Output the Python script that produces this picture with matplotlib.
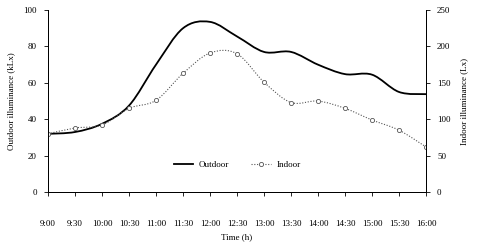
import numpy as np
import matplotlib.pyplot as plt
from matplotlib.path import Path
from matplotlib.patches import PathPatch

plt.rcParams['font.family'] = ['Liberation Serif', 'DejaVu Serif']
plt.rcParams['font.size'] = 6.5

times = ["9:00", "9:30", "10:00", "10:30", "11:00", "11:30", "12:00", "12:30",
         "13:00", "13:30", "14:00", "14:30", "15:00", "15:30", "16:00"]
outdoor = [32, 33, 37.5, 47.5, 70, 90, 93.5, 85.5, 77, 77, 70, 64.8, 64.5, 55, 53.8]
indoor = [80, 88, 92, 115, 126, 163, 191, 190, 151, 123, 125, 115, 99, 85, 62]


def smooth_path(x, y, t=1 / 6):
    # Bezier path through the points (spreadsheet-style smoothed line)
    x = np.asarray(x, float)
    y = np.asarray(y, float)
    n = len(x)
    verts = [(x[0], y[0])]
    codes = [Path.MOVETO]
    for i in range(n - 1):
        p0 = i - 1 if i > 0 else i
        p3 = i + 2 if i + 2 < n else i + 1
        c1 = (x[i] + (x[i + 1] - x[p0]) * t, y[i] + (y[i + 1] - y[p0]) * t)
        c2 = (x[i + 1] - (x[p3] - x[i]) * t, y[i + 1] - (y[p3] - y[i]) * t)
        verts += [c1, c2, (x[i + 1], y[i + 1])]
        codes += [Path.CURVE4] * 3
    return Path(verts, codes)


pos = np.arange(len(times))

fig = plt.figure(figsize=(4.8, 2.45), dpi=100)
ax = fig.add_axes([0.1, 0.216, 0.7875, 0.743])
ax2 = ax.twinx()

ax.add_patch(PathPatch(smooth_path(pos, outdoor), fill=False,
                       edgecolor='black', linewidth=1.3))
ax2.add_patch(PathPatch(smooth_path(pos, indoor), fill=False,
                        edgecolor='#555555', linewidth=0.8, linestyle=(0, (1, 1.5))))
ax2.plot(pos, indoor, linestyle='none', marker='o', markersize=3,
         markerfacecolor='white', markeredgecolor='#555555', markeredgewidth=0.6)

ax.set_xlim(0, len(times) - 1)
ax.set_ylim(0, 100)
ax2.set_ylim(0, 250)
ax.set_xticks(pos)
ax.set_xticklabels(times)
ax.set_yticks([0, 20, 40, 60, 80, 100])
ax2.set_yticks([0, 50, 100, 150, 200, 250])

for a in (ax, ax2):
    a.spines['top'].set_visible(False)
    for s in a.spines.values():
        s.set_linewidth(0.7)
    a.tick_params(direction='out', length=3, width=0.6, colors='black')
ax.tick_params(axis='x', pad=17)
ax.tick_params(axis='y', pad=5)
ax2.tick_params(axis='y', pad=5)

ax.set_xlabel("Time (h)", labelpad=4)
ax.set_ylabel("Outdoor illuminance (kLx)", labelpad=6)
ax2.set_ylabel("Indoor illuminance (Lx)", labelpad=7)

h1, = ax.plot([], [], color='black', linewidth=1.3)
h2, = ax.plot([], [], color='#555555', linewidth=0.8, linestyle=(0, (1, 1.5)),
              marker='o', markersize=3, markerfacecolor='white',
              markeredgecolor='#555555', markeredgewidth=0.6)
ax.legend([h1, h2], ["Outdoor", "Indoor"], loc='center', bbox_to_anchor=(0.5, 0.15),
          ncol=2, frameon=False, handlelength=2.2, columnspacing=2.4,
          handletextpad=0.6)

fig.savefig("out.png", dpi=100, facecolor='white')
